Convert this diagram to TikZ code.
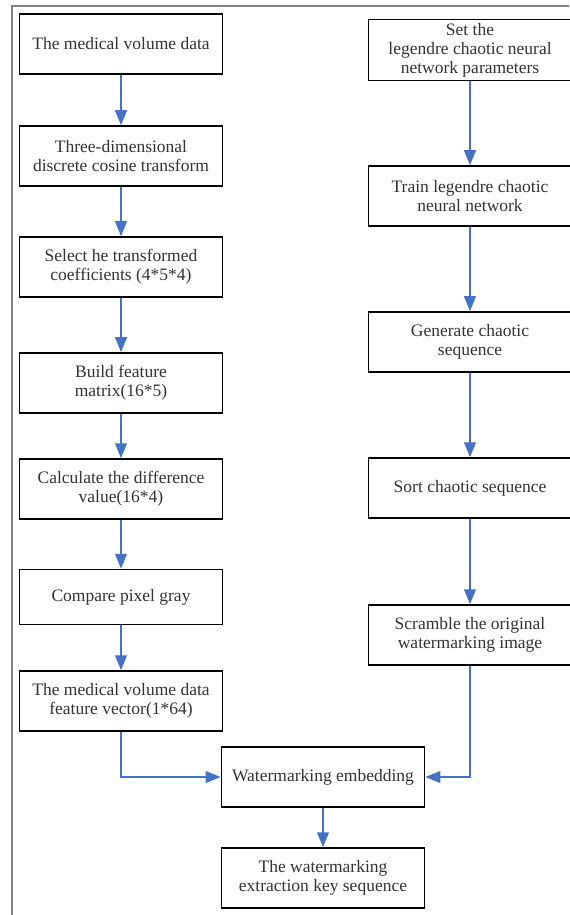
\documentclass[tikz,border=0pt]{standalone}
\usepackage{fontspec}
\setmainfont{Liberation Serif}
\usetikzlibrary{arrows.meta}
\definecolor{flowblue}{RGB}{68,114,196}
\tikzset{>={Triangle[width=7pt,length=9pt]}}

\begin{document}
\begin{tikzpicture}[x=0.6pt,y=-0.6pt,->,align=center]
\tikzstyle{step box} = [font=\fontsize{10.5}{11.5}\selectfont,rectangle,draw=black,line width=0.9pt,text=black!80,align=center, minimum width=122pt, minimum height=36pt, inner sep=2pt]
\tikzstyle{flow} = [draw=flowblue,line width=1.3pt]
\useasboundingbox (0,0) rectangle (569,915);
\draw[-,gray,line width=1.2pt] (12,915) -- (12,6) -- (569,6);
% left column
\node[step box] (vol) at (121,44) {The medical volume data};
\node[step box] (dct) at (121,156) {Three-dimensional\\discrete cosine transform};
\node[step box] (coef) at (121,267) {Select he transformed\\coefficients (4*5*4)};
\node[step box] (mat) at (121,383) {Build feature\\matrix(16*5)};
\node[step box] (diff) at (121,489) {Calculate the difference\\value(16*4)};
\node[step box, minimum height=33pt] (gray) at (121,597) {Compare pixel gray};
\node[step box] (vec) at (121,701) {The medical volume data\\feature vector(1*64)};
% right column
\node[step box] (par) at (470,50) {Set the\\legendre chaotic neural\\network parameters};
\node[step box] (train) at (470,196) {Train legendre chaotic\\neural network};
\node[step box] (gen) at (470,342) {Generate chaotic\\sequence};
\node[step box] (sort) at (470,488) {Sort chaotic sequence};
\node[step box] (scr) at (470,635) {Scramble the original\\watermarking image};
% bottom
\node[step box] (emb) at (323,777) {Watermarking embedding};
\node[step box] (key) at (323,878) {The watermarking\\extraction key sequence};
\draw[flow] (vol) -> (dct);
\draw[flow] (dct) -> (coef);
\draw[flow] (coef) -> (mat);
\draw[flow] (mat) -> (diff);
\draw[flow] (diff) -> (gray);
\draw[flow] (gray) -> (vec);
\draw[flow] (par) -> (train);
\draw[flow] (train) -> (gen);
\draw[flow] (gen) -> (sort);
\draw[flow] (sort) -> (scr);
\draw[flow] (vec) |- (emb);
\draw[flow] (scr) |- (emb);
\draw[flow] (emb) -> (key);
\end{tikzpicture}
\end{document}
